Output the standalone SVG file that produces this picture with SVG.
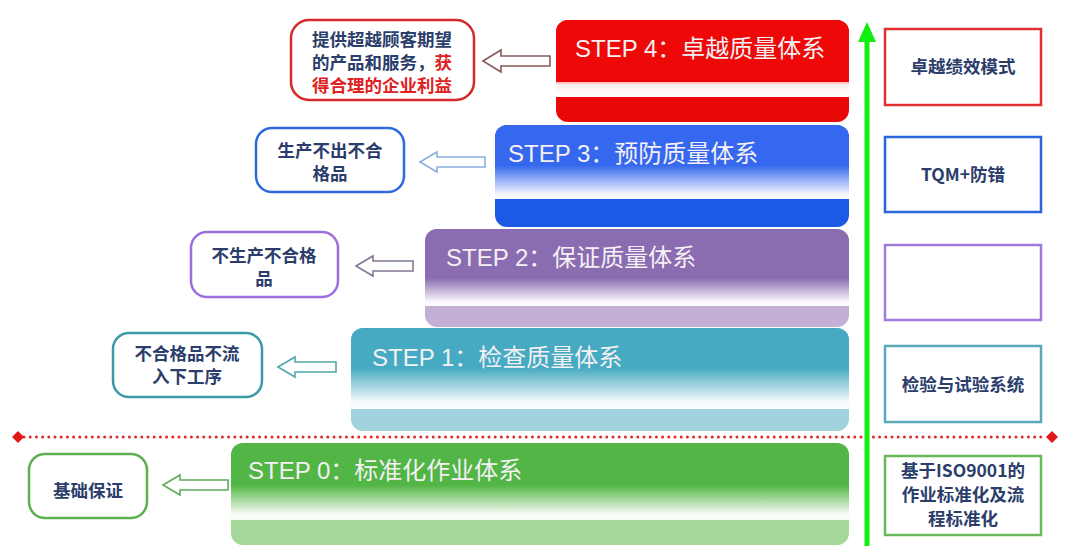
<svg xmlns="http://www.w3.org/2000/svg" width="1080" height="555" viewBox="0 0 1080 555">
<style>
.st{font-family:"Liberation Sans","Noto Sans CJK SC",sans-serif;font-size:24px;fill:#f4f0f4}
.lb{font-family:"Noto Sans CJK SC",sans-serif;font-size:17.5px;font-weight:bold;fill:#2b3d6b;text-anchor:middle}
.rb{font-family:"Noto Sans CJK SC",sans-serif;font-size:17.5px;font-weight:bold;fill:#2b3d6b;text-anchor:middle}
.lbox{fill:#ffffff;stroke-width:2.5}
.rbox{fill:#ffffff;stroke-width:2.5}
.arr{fill:#ffffff;stroke-width:1.6}
</style>
<defs>
<linearGradient id="g4" x1="0" y1="0" x2="0" y2="1"><stop offset="0" stop-color="#f6a0a0"/><stop offset="0.25" stop-color="#fff0f0"/><stop offset="1" stop-color="#ffffff"/></linearGradient>
<linearGradient id="g3" x1="0" y1="0" x2="0" y2="1"><stop offset="0" stop-color="#3568ee"/><stop offset="0.6" stop-color="#3568ee"/><stop offset="0.95" stop-color="#f8f8ff"/><stop offset="1" stop-color="#ffffff"/></linearGradient>
<linearGradient id="g2" x1="0" y1="0" x2="0" y2="1"><stop offset="0" stop-color="#8a6cb0"/><stop offset="0.68" stop-color="#8a6cb0"/><stop offset="0.95" stop-color="#faf8fc"/><stop offset="1" stop-color="#ffffff"/></linearGradient>
<linearGradient id="g1" x1="0" y1="0" x2="0" y2="1"><stop offset="0" stop-color="#46aac2"/><stop offset="0.55" stop-color="#46aac2"/><stop offset="0.92" stop-color="#f4fafb"/><stop offset="1" stop-color="#f8fcfc"/></linearGradient>
<linearGradient id="g0" x1="0" y1="0" x2="0" y2="1"><stop offset="0" stop-color="#52b646"/><stop offset="0.6" stop-color="#52b646"/><stop offset="0.93" stop-color="#f6fbf4"/><stop offset="1" stop-color="#f8fcf8"/></linearGradient>
<clipPath id="c4"><rect x="556" y="20" width="293" height="102" rx="12"/></clipPath>
<clipPath id="c3"><rect x="495" y="125" width="354" height="102" rx="12"/></clipPath>
<clipPath id="c2"><rect x="425" y="229" width="424" height="98" rx="12"/></clipPath>
<clipPath id="c1"><rect x="351" y="328" width="498" height="103" rx="12"/></clipPath>
<clipPath id="c0"><rect x="231" y="443" width="618" height="102" rx="12"/></clipPath>
</defs>
<rect width="1080" height="555" fill="#ffffff"/>

<g id="connectors">
<line x1="24" y1="437" x2="1046" y2="437" stroke="#e02828" stroke-width="3" stroke-dasharray="0 6.2" stroke-linecap="round"/>
<polygon points="18,431 24,437 18,443 12,437" fill="#e01818"/>
<polygon points="1052,431 1058,437 1052,443 1046,437" fill="#e01818"/>
<line x1="867" y1="546" x2="867" y2="38" stroke="#10ee10" stroke-width="5"/>
<polygon points="867,22 858,42 876,42" fill="#10ee10"/>
<path class="arr" stroke="#8a5a5a" d="M483,61 L501,50 L501,56 L550,56 L550,66 L501,66 L501,72 Z"/>
<path class="arr" stroke="#8ab0e0" d="M420,162 L437,152 L437,157 L485,157 L485,167 L437,167 L437,172 Z"/>
<path class="arr" stroke="#857595" d="M356,266 L373,256 L373,261 L413,261 L413,271 L373,271 L373,276 Z"/>
<path class="arr" stroke="#50a8a8" d="M278,367 L295,357 L295,362 L336,362 L336,372 L295,372 L295,377 Z"/>
<path class="arr" stroke="#60aa58" d="M163,485 L180,475 L180,480 L228,480 L228,490 L180,490 L180,495 Z"/>
</g>

<g id="step4">
<g clip-path="url(#c4)"><rect x="556" y="20" width="293" height="102" fill="#e80808"/><rect x="550" y="81" width="305" height="16" rx="5" fill="url(#g4)"/><rect x="550" y="10" width="305" height="72" rx="6" fill="#ee0808"/></g>
<text class="st" x="575" y="57">STEP 4：卓越质量体系</text>
</g>
<g id="step3">
<g clip-path="url(#c3)"><rect x="495" y="125" width="354" height="102" fill="#1c5ae6"/><rect x="489" y="115" width="366" height="84" rx="6" fill="url(#g3)"/></g>
<text class="st" x="508" y="162">STEP 3：预防质量体系</text>
</g>
<g id="step2">
<g clip-path="url(#c2)"><rect x="425" y="229" width="424" height="98" fill="#c4b0d4"/><rect x="419" y="219" width="436" height="87" rx="6" fill="url(#g2)"/></g>
<text class="st" x="446" y="266">STEP 2：保证质量体系</text>
</g>
<g id="step1">
<g clip-path="url(#c1)"><rect x="351" y="328" width="498" height="103" fill="#a2d2de"/><rect x="345" y="318" width="510" height="91" rx="6" fill="url(#g1)"/></g>
<text class="st" x="372" y="366">STEP 1：检查质量体系</text>
</g>
<g id="step0">
<g clip-path="url(#c0)"><rect x="231" y="443" width="618" height="102" fill="#a6d89c"/><rect x="225" y="433" width="630" height="87" rx="6" fill="url(#g0)"/></g>
<text class="st" x="248" y="479">STEP 0：标准化作业体系</text>
</g>

<g id="out4">
<rect class="lbox" stroke="#d42a2a" x="291" y="20" width="183" height="80" rx="18"/>
<text class="lb" x="382" y="46">提供超越顾客期望</text>
<text class="lb" x="382" y="69">的产品和服务，<tspan style="fill:#e02020">获</tspan></text>
<text class="lb" x="382" y="92" style="fill:#e02020">得合理的企业利益</text>
</g>
<g id="out3">
<rect class="lbox" stroke="#2e6adc" x="256" y="128" width="148" height="64" rx="16"/>
<text class="lb" x="330" y="157">生产不出不合</text>
<text class="lb" x="330" y="180">格品</text>
</g>
<g id="out2">
<rect class="lbox" stroke="#9a70e0" x="191" y="232" width="147" height="65" rx="16"/>
<text class="lb" x="264" y="262">不生产不合格</text>
<text class="lb" x="264" y="285">品</text>
</g>
<g id="out1">
<rect class="lbox" stroke="#3b9aa8" x="113" y="333" width="149" height="64" rx="16"/>
<text class="lb" x="187" y="360">不合格品不流</text>
<text class="lb" x="187" y="383">入下工序</text>
</g>
<g id="out0">
<rect class="lbox" stroke="#5cb04e" x="29" y="454" width="118" height="64" rx="16"/>
<text class="lb" x="88" y="497">基础保证</text>
</g>

<g id="model4">
<rect class="rbox" stroke="#e03030" x="885" y="29" width="156" height="76"/>
<text class="rb" x="963" y="73">卓越绩效模式</text>
</g>
<g id="model3">
<rect class="rbox" stroke="#2a66d8" x="885" y="137" width="156" height="75"/>
<text class="rb" x="963" y="181">TQM+防错</text>
</g>
<g id="model2">
<rect class="rbox" stroke="#a07ae0" x="885" y="245" width="156" height="75"/>
</g>
<g id="model1">
<rect class="rbox" stroke="#5aa8b8" x="885" y="346" width="156" height="76"/>
<text class="rb" x="963" y="391">检验与试验系统</text>
</g>
<g id="model0">
<rect class="rbox" stroke="#6ab85a" x="885" y="456" width="156" height="79"/>
<text class="rb" x="963" y="477">基于ISO9001的</text>
<text class="rb" x="963" y="501">作业标准化及流</text>
<text class="rb" x="963" y="525">程标准化</text>
</g>
</svg>
